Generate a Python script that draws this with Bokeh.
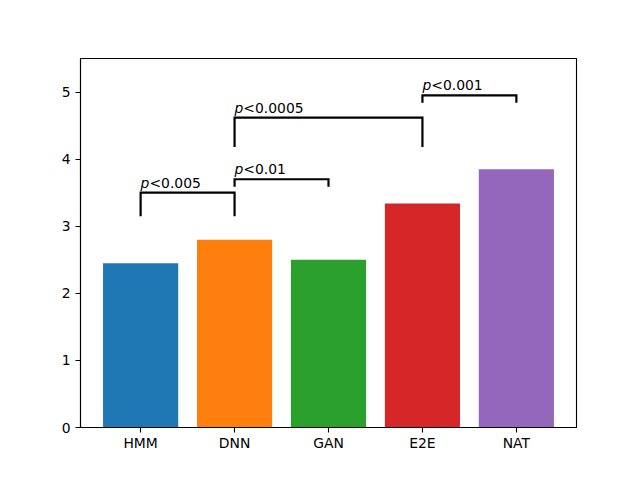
from bokeh.plotting import figure
from bokeh.models import Range1d, FixedTicker, ColumnDataSource
from bokeh.embed import file_html
from bokeh.resources import INLINE
from bokeh.core.properties import value

systems = ["HMM", "DNN", "GAN", "E2E", "NAT"]
scores = [2.45, 2.80, 2.50, 3.34, 3.85]
colors = ["#1f77b4", "#ff7f0e", "#2ca02c", "#d62728", "#9467bd"]

pair_left = [0, 1, 1, 3]
pair_right = [1, 2, 3, 4]
bracket_top = [3.50, 3.70, 4.62, 4.95]
bracket_bottom = [3.15, 3.59, 4.18, 4.84]
p_values = ["<0.005", "<0.01", "<0.0005", "<0.001"]

FONT = "DejaVu Sans"
FS = "13.9px"

p = figure(width=624, height=464, output_backend="svg", toolbar_location=None,
           x_range=Range1d(-0.64, 4.64), y_range=Range1d(0, 5.5),
           min_border_left=80, min_border_right=48, min_border_top=58,
           min_border_bottom=37)

x_pos = list(range(len(systems)))
bars = ColumnDataSource(dict(x=x_pos, top=scores, color=colors))
p.vbar(x="x", top="top", bottom=0, width=0.8, fill_color="color",
       line_color=None, source=bars)

xs, ys = [], []
for l, r, t, b in zip(pair_left, pair_right, bracket_top, bracket_bottom):
    xs.append([l, l, r, r])
    ys.append([b, t, t, b])
p.multi_line(xs=xs, ys=ys, line_color="black", line_width=2.2,
             line_join="miter", line_cap="butt")

lab = ColumnDataSource(dict(x=pair_left, y=bracket_top, t=p_values,
                            pp=["p"] * len(p_values)))
p.text(x="x", y="y", text="pp", source=lab, text_font=value(FONT),
       text_font_size=FS, text_font_style="italic", text_baseline="bottom",
       text_align="left", y_offset=-2, text_color="black")
p.text(x="x", y="y", text="t", source=lab, text_font=value(FONT),
       text_font_size=FS, text_baseline="bottom", text_align="left",
       x_offset=8.8, y_offset=-2, text_color="black")

p.xgrid.visible = False
p.ygrid.visible = False
p.outline_line_color = "black"
p.outline_line_width = 1.1

p.xaxis.ticker = FixedTicker(ticks=x_pos)
p.xaxis.major_label_overrides = {i: s for i, s in enumerate(systems)}
p.yaxis.ticker = FixedTicker(ticks=[0, 1, 2, 3, 4, 5])
for ax in (p.xaxis, p.yaxis):
    ax.axis_line_color = "black"
    ax.axis_line_width = 1.1
    ax.major_tick_line_color = "black"
    ax.major_tick_line_width = 1.1
    ax.major_tick_out = 5
    ax.major_tick_in = 0
    ax.minor_tick_line_color = None
    ax.major_label_text_font = FONT
    ax.major_label_text_font_size = FS
    ax.major_label_text_color = "black"
    ax.major_label_standoff = 5
p.xaxis.major_label_standoff = 2

open("out.html", "w").write(file_html(p, INLINE))
